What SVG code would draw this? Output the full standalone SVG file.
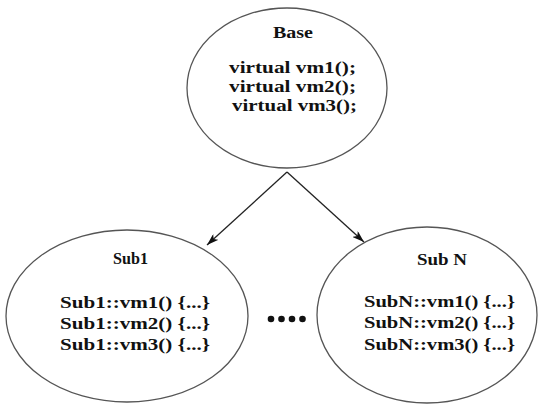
<svg xmlns="http://www.w3.org/2000/svg" width="542" height="406" viewBox="0 0 542 406">
<defs>
<style>
.node{fill:#fff;stroke:#555;stroke-width:1.3}
.t{font-family:"Liberation Serif","Times New Roman",serif;font-weight:bold;fill:#111;text-anchor:start}
.h{font-size:17px}
.m{font-size:16px}
.edge{stroke:#222;stroke-width:1.3;fill:none}
</style>
<marker id="arr" viewBox="0 0 12 8" refX="12" refY="4" markerWidth="12" markerHeight="8" markerUnits="userSpaceOnUse" orient="auto">
<path d="M0,0 L12,4 L0,8 L3,4 Z" fill="#111"/>
</marker>
</defs>
<rect width="542" height="406" fill="#fff"/>
<g id="connectors">
<line class="edge" x1="287" y1="172" x2="207" y2="245" marker-end="url(#arr)"/>
<line class="edge" x1="287" y1="172" x2="364" y2="242" marker-end="url(#arr)"/>
</g>
<g id="base">
<ellipse class="node" cx="287" cy="88" rx="100" ry="80"/>
<text class="t h" x="273" y="38" textLength="40" lengthAdjust="spacingAndGlyphs">Base</text>
<text class="t h" x="229" y="73" textLength="127" lengthAdjust="spacingAndGlyphs">virtual vm1();</text>
<text class="t h" x="229" y="92" textLength="127" lengthAdjust="spacingAndGlyphs">virtual vm2();</text>
<text class="t h" x="232" y="111" textLength="125" lengthAdjust="spacingAndGlyphs">virtual vm3();</text>
</g>
<g id="sub1">
<ellipse class="node" cx="127" cy="316" rx="121" ry="86"/>
<text class="t m" x="113" y="264" textLength="35" lengthAdjust="spacingAndGlyphs">Sub1</text>
<text class="t m" x="60" y="308" textLength="150" lengthAdjust="spacingAndGlyphs">Sub1::vm1() {...}</text>
<text class="t m" x="60" y="329" textLength="150" lengthAdjust="spacingAndGlyphs">Sub1::vm2() {...}</text>
<text class="t m" x="60" y="350" textLength="150" lengthAdjust="spacingAndGlyphs">Sub1::vm3() {...}</text>
</g>
<g id="dots" fill="#111">
<circle cx="271" cy="319" r="3.3"/>
<circle cx="281.5" cy="319" r="3.3"/>
<circle cx="292" cy="319" r="3.3"/>
<circle cx="302.5" cy="319" r="3.3"/>
</g>
<g id="subN">
<ellipse class="node" cx="427" cy="315" rx="110" ry="88"/>
<text class="t m" x="417" y="265" textLength="50" lengthAdjust="spacingAndGlyphs">Sub N</text>
<text class="t m" x="364" y="307" textLength="151" lengthAdjust="spacingAndGlyphs">SubN::vm1() {...}</text>
<text class="t m" x="364" y="328" textLength="151" lengthAdjust="spacingAndGlyphs">SubN::vm2() {...}</text>
<text class="t m" x="364" y="350" textLength="151" lengthAdjust="spacingAndGlyphs">SubN::vm3() {...}</text>
</g>
</svg>
